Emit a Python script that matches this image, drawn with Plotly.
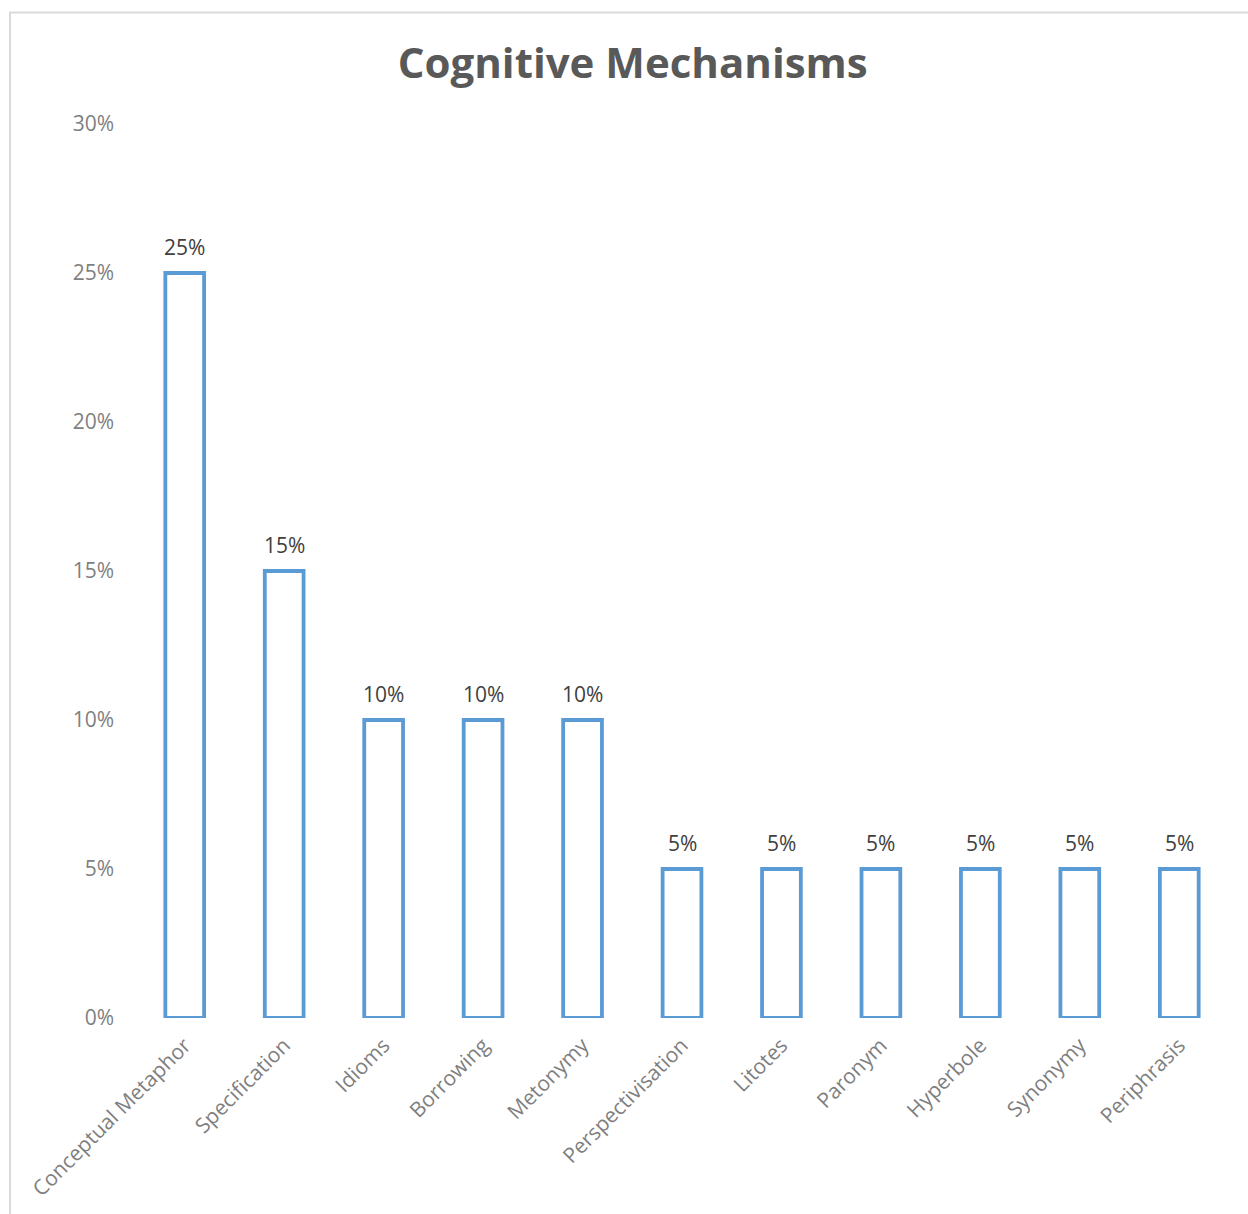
import plotly.graph_objects as go

categories = ["Conceptual Metaphor", "Specification", "Idioms", "Borrowing", "Metonymy",
              "Perspectivisation", "Litotes", "Paronym", "Hyperbole", "Synonymy", "Periphrasis"]
values = [0.25, 0.15, 0.10, 0.10, 0.10, 0.05, 0.05, 0.05, 0.05, 0.05, 0.05]
value_labels = ["25%", "15%", "10%", "10%", "10%", "5%", "5%", "5%", "5%", "5%", "5%"]
y_ticks = [0, 0.05, 0.10, 0.15, 0.20, 0.25, 0.30]
y_tick_labels = ["0%", "5%", "10%", "15%", "20%", "25%", "30%"]

fig = go.Figure(go.Bar(
    x=categories, y=values,
    marker=dict(color="white", line=dict(color="#5B9BD5", width=3.8)),
    width=0.39,
))

annotations = [
    dict(x=c, y=v, text=t, showarrow=False, xanchor="center", yanchor="bottom", yshift=10,
         font=dict(family="Open Sans", size=21, color="#404040"))
    for c, v, t in zip(categories, values, value_labels)
]

fig.update_layout(
    width=1248, height=1214,
    margin=dict(l=135, r=19, t=124, b=196),
    paper_bgcolor="white", plot_bgcolor="white",
    showlegend=False,
    annotations=annotations,
    title=dict(text="<b>Cognitive Mechanisms</b>", x=0.507, xanchor="center", y=0.948, yanchor="middle",
               font=dict(family="Open Sans", size=42, color="#595959")),
    xaxis=dict(tickangle=-45, showline=False, showgrid=False, ticks="",
               ticklabelstandoff=10,
               tickfont=dict(family="Open Sans", size=21, color="#7F7F7F")),
    yaxis=dict(range=[0, 0.30], tickvals=y_ticks, ticktext=y_tick_labels,
               showgrid=False, showline=False, zeroline=False, ticks="",
               ticklabelstandoff=20,
               tickfont=dict(family="Open Sans", size=21, color="#7F7F7F")),
    shapes=[dict(type="rect", xref="paper", yref="paper",
                 x0=-0.1143, x1=1.1, y0=-0.5, y1=1.1247,
                 line=dict(color="#D9D9D9", width=2), fillcolor="rgba(0,0,0,0)", layer="below")],
)

fig.write_html("out.html")
